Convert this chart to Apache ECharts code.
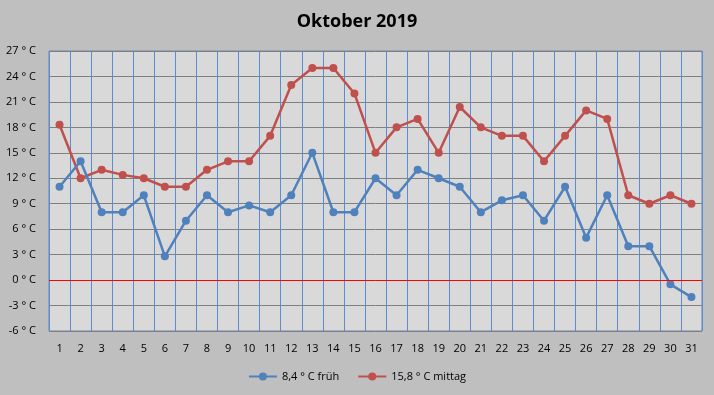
<!DOCTYPE html>
<html><head><meta charset="utf-8">
<script src="https://cdn.jsdelivr.net/npm/echarts@6/dist/echarts.min.js"></script>
<style>html,body{margin:0;padding:0;background:#bfbfbf;}#c{width:714px;height:395px;}</style>
</head><body><div id="c"></div>
<script>
const days = ['1','2','3','4','5','6','7','8','9','10','11','12','13','14','15','16','17','18','19','20','21','22','23','24','25','26','27','28','29','30','31'];
const frueh = [11,14,8,8,10,2.8,7,10,8,8.8,8,10,15,8,8,12,10,13,12,11,8,9.4,10,7,11,5,10,4,4,-0.5,-2];
const mittag = [18.3,12,13,12.4,12,11,11,13,14,14,17,23,25,25,22,15,18,19,15,20.4,18,17,17,14,17,20,19,10,9,10,9];
const seriesNames = ['8,4 ° C früh','15,8 ° C mittag'];
const yMin = -6, yMax = 27, yStep = 3;

const font = 'Open Sans, Noto Sans, sans-serif';
const chart = echarts.init(document.getElementById('c'));
chart.setOption({
  backgroundColor: '#bfbfbf',
  animation: false,
  title: {text: 'Oktober 2019', left: 'center', top: 8,
    textStyle: {fontFamily: font, fontSize: 18, fontWeight: 'bold', color: '#000'}},
  grid: {left: 49, right: 12, top: 51, bottom: 64, show: true,
    backgroundColor: '#d9d9d9', borderColor: '#6a86b0', borderWidth: 1},
  legend: {bottom: 8, left: 'center', itemWidth: 28, itemHeight: 10, itemGap: 18,
    textStyle: {fontFamily: font, fontSize: 11, color: '#000'},
    data: seriesNames},
  xAxis: {type: 'category', data: days, boundaryGap: true,
    axisLine: {show: false}, axisTick: {show: false},
    axisLabel: {interval: 0, fontFamily: font, fontSize: 11, color: '#000', margin: 12},
    splitLine: {show: true, interval: 0, lineStyle: {color: '#5b8bd0', width: 1}}},
  yAxis: {type: 'value', min: yMin, max: yMax, interval: yStep,
    axisLine: {show: false}, axisTick: {show: false},
    axisLabel: {formatter: '{value} ° C', fontFamily: font, fontSize: 11, color: '#000', margin: 13},
    splitLine: {show: true, lineStyle: {color: '#808080', width: 1}}},
  series: [
    {name: seriesNames[0], type: 'line', data: frueh, symbol: 'circle', symbolSize: 8,
      itemStyle: {color: '#4f81bd'}, lineStyle: {color: '#4f81bd', width: 2.5}, z: 3,
      markLine: {silent: true, symbol: 'none', label: {show: false},
        lineStyle: {color: '#ff0000', width: 1, type: 'solid'}, data: [{yAxis: 0}]}},
    {name: seriesNames[1], type: 'line', data: mittag, symbol: 'circle', symbolSize: 8,
      itemStyle: {color: '#c0504d'}, lineStyle: {color: '#c0504d', width: 2.5}, z: 2}
  ]
});
</script></body></html>
